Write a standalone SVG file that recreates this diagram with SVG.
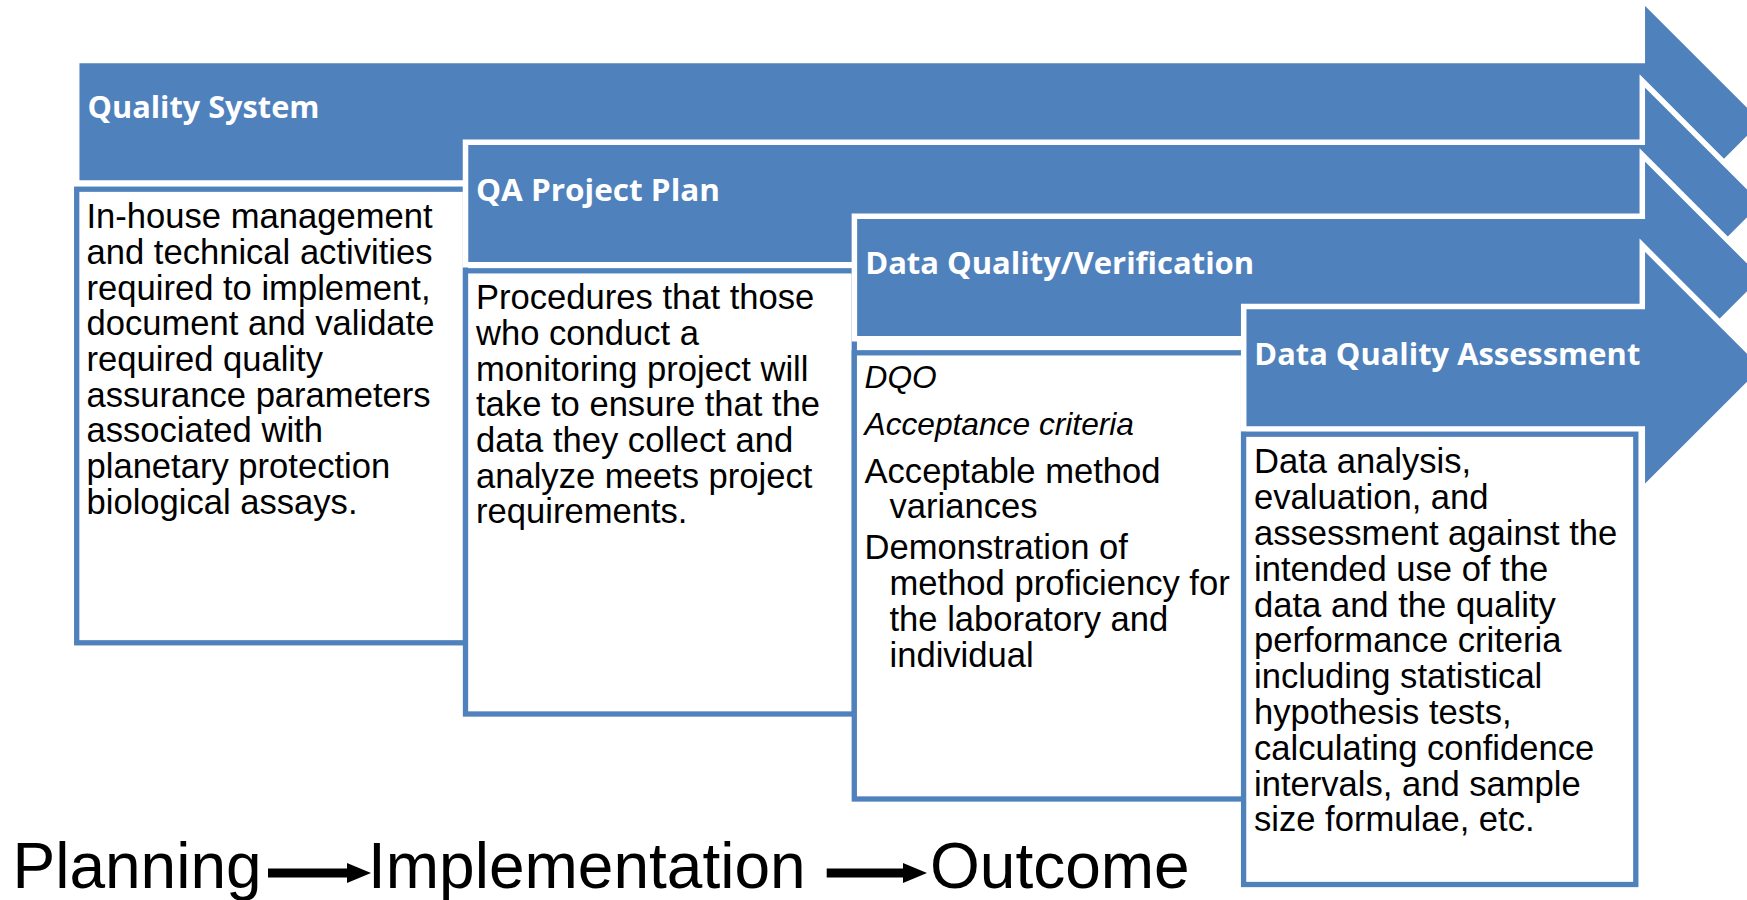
<svg xmlns="http://www.w3.org/2000/svg" width="1747" height="900" viewBox="0 0 1747 900">
  <defs>
    <style>
      .band { fill: #4F81BD; stroke: #FFFFFF; stroke-width: 5.5; stroke-linejoin: miter; stroke-miterlimit: 10; }
      .card { fill: #FFFFFF; stroke: #4F81BD; stroke-width: 5.3; }
      .head { font-family: "Open Sans", "Liberation Sans", sans-serif; font-weight: 700; font-size: 30.5px; fill: #FFFFFF; }
      .body { font-family: "Liberation Sans", Arial, sans-serif; font-size: 34.6px; fill: #000000; }
      .ital { font-family: "Liberation Sans", Arial, sans-serif; font-size: 31.7px; font-style: italic; fill: #000000; }
      .stage { font-family: "Liberation Sans", Arial, sans-serif; font-size: 64px; fill: #000000; }
      .flow { stroke: #000000; stroke-width: 9; fill: none; }
    </style>
    <marker id="flowHead" markerUnits="userSpaceOnUse" markerWidth="24" markerHeight="20" refX="0" refY="10" orient="auto">
      <path d="M0,0 L24,10 L0,20 Z" fill="#000000"/>
    </marker>
  </defs>

  <rect x="0" y="0" width="1747" height="900" fill="#FFFFFF"/>

  <!-- Stage 1: Quality System -->
  <g id="quality-system">
    <path class="band" d="M76.7,60.5 H1642.3 V-0.75 L1764.8,121.75 L1642.3,244.25 V183 H76.7 Z"/>
    <text class="head" x="87.5" y="118" textLength="232" lengthAdjust="spacingAndGlyphs">Quality System</text>
    <rect class="card" x="76.7" y="189.2" width="388.8" height="453.6"/>
    <text class="body" x="86.5">
      <tspan x="86.5" y="228.3">In-house management</tspan>
      <tspan x="86.5" y="263.95">and technical activities</tspan>
      <tspan x="86.5" y="299.6">required to implement,</tspan>
      <tspan x="86.5" y="335.25">document and validate</tspan>
      <tspan x="86.5" y="370.9">required quality</tspan>
      <tspan x="86.5" y="406.55">assurance parameters</tspan>
      <tspan x="86.5" y="442.2">associated with</tspan>
      <tspan x="86.5" y="477.85">planetary protection</tspan>
      <tspan x="86.5" y="513.5">biological assays.</tspan>
    </text>
  </g>

  <!-- Stage 2: QA Project Plan -->
  <g id="qa-project-plan">
    <path class="band" d="M465.5,142.2 H1642.3 V80.95 L1764.8,203.45 L1642.3,325.95 V264.7 H465.5 Z"/>
    <text class="head" x="476" y="201" textLength="244" lengthAdjust="spacingAndGlyphs">QA Project Plan</text>
    <rect class="card" x="465.5" y="270.8" width="388.8" height="443.2"/>
    <text class="body" x="476">
      <tspan x="476" y="309.3">Procedures that those</tspan>
      <tspan x="476" y="344.95">who conduct a</tspan>
      <tspan x="476" y="380.6">monitoring project will</tspan>
      <tspan x="476" y="416.25">take to ensure that the</tspan>
      <tspan x="476" y="451.9">data they collect and</tspan>
      <tspan x="476" y="487.55">analyze meets project</tspan>
      <tspan x="476" y="523.2">requirements.</tspan>
    </text>
  </g>

  <!-- Stage 3: Data Quality/Verification -->
  <g id="data-quality-verification">
    <path class="band" d="M854.4,216.2 H1642.3 V154.95 L1764.8,277.45 L1642.3,399.95 V338.7 H854.4 Z"/>
    <text class="head" x="865.2" y="274" textLength="389" lengthAdjust="spacingAndGlyphs">Data Quality/Verification</text>
    <rect class="card" x="854.3" y="352.8" width="389.3" height="446.2"/>
    <text class="ital" x="864.5" y="388.3">DQO</text>
    <text class="ital" x="864.5" y="435">Acceptance criteria</text>
    <text class="body" x="864.5">
      <tspan x="864.5" y="482.7">Acceptable method</tspan>
      <tspan x="889.5" y="518.3">variances</tspan>
      <tspan x="864.5" y="559.3">Demonstration of</tspan>
      <tspan x="889.5" y="595">method proficiency for</tspan>
      <tspan x="889.5" y="631.3">the laboratory and</tspan>
      <tspan x="889.5" y="667">individual</tspan>
    </text>
  </g>

  <!-- Stage 4: Data Quality Assessment -->
  <g id="data-quality-assessment">
    <path class="band" d="M1243.7,306.5 H1642.3 V245.25 L1764.8,367.75 L1642.3,490.25 V429 H1243.7 Z"/>
    <text class="head" x="1254.3" y="365" textLength="386" lengthAdjust="spacingAndGlyphs">Data Quality Assessment</text>
    <rect class="card" x="1243.6" y="434.2" width="392.2" height="450.3"/>
    <text class="body" x="1254">
      <tspan x="1254" y="473.3">Data analysis,</tspan>
      <tspan x="1254" y="509.1">evaluation, and</tspan>
      <tspan x="1254" y="544.9">assessment against the</tspan>
      <tspan x="1254" y="580.7">intended use of the</tspan>
      <tspan x="1254" y="616.5">data and the quality</tspan>
      <tspan x="1254" y="652.3">performance criteria</tspan>
      <tspan x="1254" y="688.1">including statistical</tspan>
      <tspan x="1254" y="723.9">hypothesis tests,</tspan>
      <tspan x="1254" y="759.7">calculating confidence</tspan>
      <tspan x="1254" y="795.5">intervals, and sample</tspan>
      <tspan x="1254" y="831.3">size formulae, etc.</tspan>
    </text>
  </g>

  <!-- Phase labels along the bottom -->
  <g id="phase-planning">
    <text class="stage" x="12.5" y="888">Planning</text>
  </g>
  <g id="phase-implementation">
    <text class="stage" x="368" y="888">Implementation</text>
  </g>
  <g id="phase-outcome">
    <text class="stage" x="930" y="888">Outcome</text>
  </g>

  <g id="connectors">
    <line class="flow" x1="268" y1="873" x2="347" y2="873" marker-end="url(#flowHead)"/>
    <line class="flow" x1="826.7" y1="873" x2="903" y2="873" marker-end="url(#flowHead)"/>
  </g>
</svg>
